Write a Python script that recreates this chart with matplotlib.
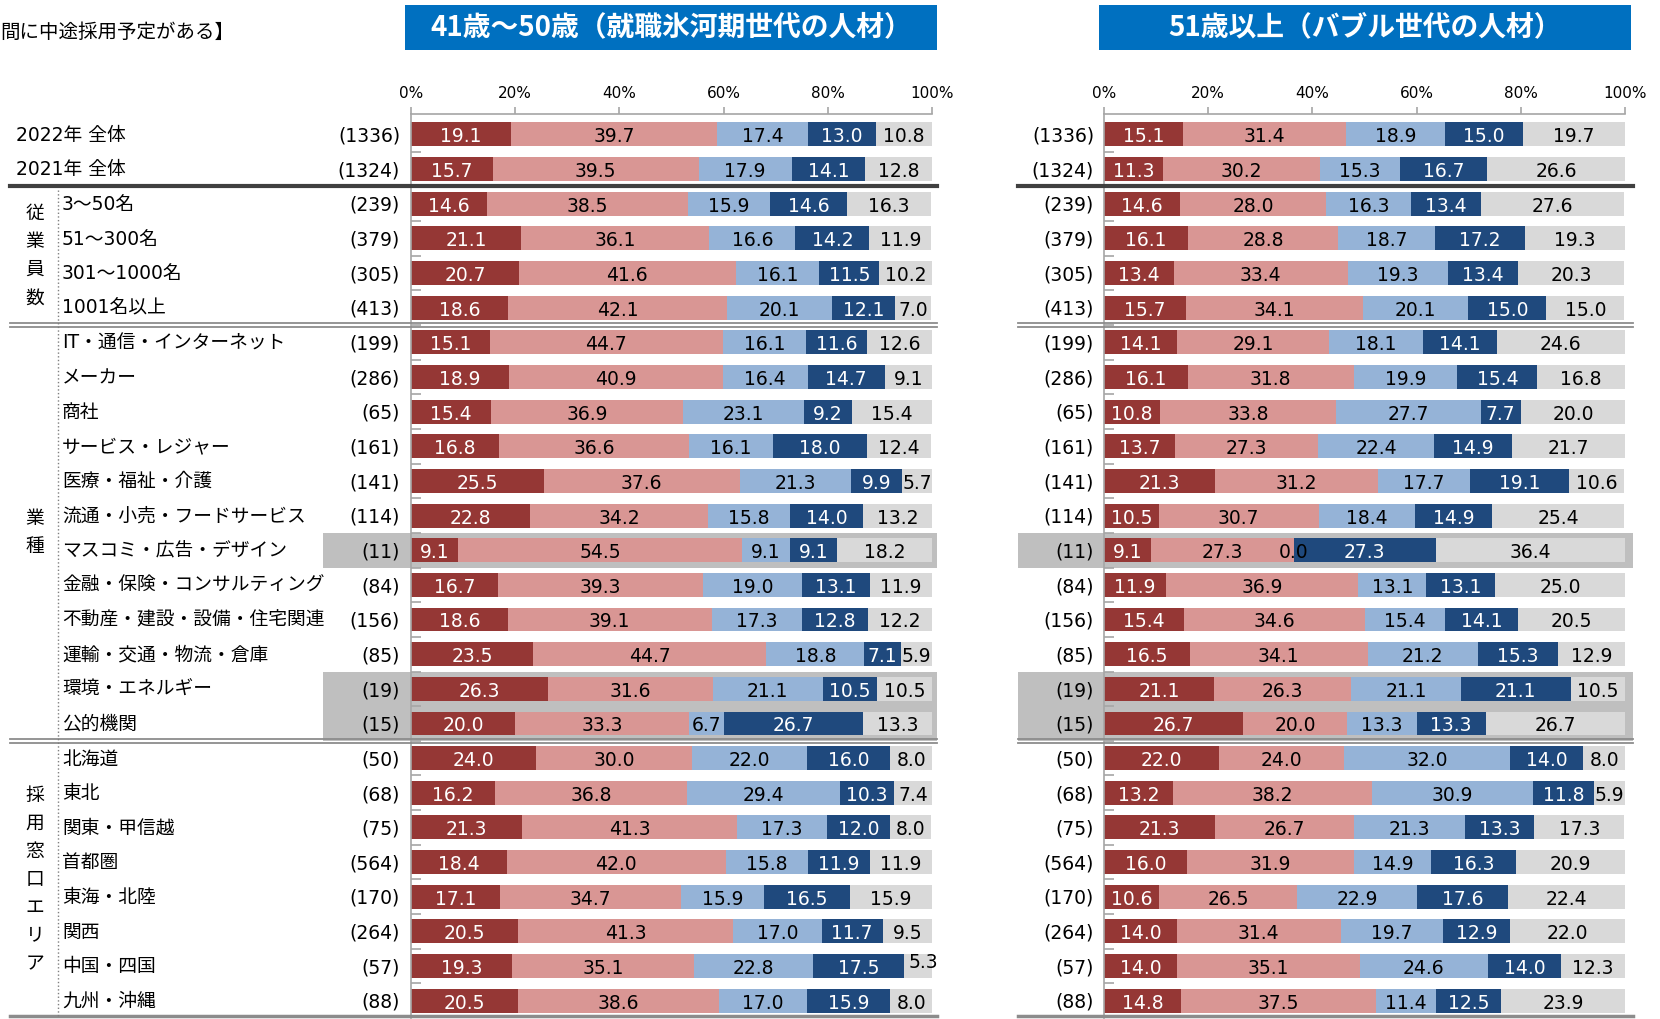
import numpy as np
import matplotlib.pyplot as plt
import matplotlib.transforms as mtransforms
from matplotlib.patches import Rectangle
from matplotlib.lines import Line2D

plt.rcParams["font.family"] = ["DejaVu Sans", "Noto Sans CJK JP"]

# 行ラベルと回答数
labels = [
    "2022年 全体", "2021年 全体",
    "3～50名", "51～300名", "301～1000名", "1001名以上",
    "IT・通信・インターネット", "メーカー", "商社", "サービス・レジャー",
    "医療・福祉・介護", "流通・小売・フードサービス", "マスコミ・広告・デザイン",
    "金融・保険・コンサルティング", "不動産・建設・設備・住宅関連",
    "運輸・交通・物流・倉庫", "環境・エネルギー", "公的機関",
    "北海道", "東北", "関東・甲信越", "首都圏", "東海・北陸", "関西",
    "中国・四国", "九州・沖縄",
]
counts = [1336, 1324, 239, 379, 305, 413, 199, 286, 65, 161, 141, 114, 11,
          84, 156, 85, 19, 15, 50, 68, 75, 564, 170, 264, 57, 88]

# グループ(見出し, 先頭行, 最終行)
groups = [("従業員数", 2, 5), ("業種", 6, 17), ("採用窓口エリア", 18, 25)]
# 回答数が少ない行(グレー網掛け)
small_rows = [(12, 12), (16, 17)]

# 41歳～50歳
a41_1 = [19.1, 15.7, 14.6, 21.1, 20.7, 18.6, 15.1, 18.9, 15.4, 16.8, 25.5, 22.8, 9.1,
         16.7, 18.6, 23.5, 26.3, 20.0, 24.0, 16.2, 21.3, 18.4, 17.1, 20.5, 19.3, 20.5]
a41_2 = [39.7, 39.5, 38.5, 36.1, 41.6, 42.1, 44.7, 40.9, 36.9, 36.6, 37.6, 34.2, 54.5,
         39.3, 39.1, 44.7, 31.6, 33.3, 30.0, 36.8, 41.3, 42.0, 34.7, 41.3, 35.1, 38.6]
a41_3 = [17.4, 17.9, 15.9, 16.6, 16.1, 20.1, 16.1, 16.4, 23.1, 16.1, 21.3, 15.8, 9.1,
         19.0, 17.3, 18.8, 21.1, 6.7, 22.0, 29.4, 17.3, 15.8, 15.9, 17.0, 22.8, 17.0]
a41_4 = [13.0, 14.1, 14.6, 14.2, 11.5, 12.1, 11.6, 14.7, 9.2, 18.0, 9.9, 14.0, 9.1,
         13.1, 12.8, 7.1, 10.5, 26.7, 16.0, 10.3, 12.0, 11.9, 16.5, 11.7, 17.5, 15.9]
a41_5 = [10.8, 12.8, 16.3, 11.9, 10.2, 7.0, 12.6, 9.1, 15.4, 12.4, 5.7, 13.2, 18.2,
         11.9, 12.2, 5.9, 10.5, 13.3, 8.0, 7.4, 8.0, 11.9, 15.9, 9.5, 5.3, 8.0]

# 51歳以上
a51_1 = [15.1, 11.3, 14.6, 16.1, 13.4, 15.7, 14.1, 16.1, 10.8, 13.7, 21.3, 10.5, 9.1,
         11.9, 15.4, 16.5, 21.1, 26.7, 22.0, 13.2, 21.3, 16.0, 10.6, 14.0, 14.0, 14.8]
a51_2 = [31.4, 30.2, 28.0, 28.8, 33.4, 34.1, 29.1, 31.8, 33.8, 27.3, 31.2, 30.7, 27.3,
         36.9, 34.6, 34.1, 26.3, 20.0, 24.0, 38.2, 26.7, 31.9, 26.5, 31.4, 35.1, 37.5]
a51_3 = [18.9, 15.3, 16.3, 18.7, 19.3, 20.1, 18.1, 19.9, 27.7, 22.4, 17.7, 18.4, 0.0,
         13.1, 15.4, 21.2, 21.1, 13.3, 32.0, 30.9, 21.3, 14.9, 22.9, 19.7, 24.6, 11.4]
a51_4 = [15.0, 16.7, 13.4, 17.2, 13.4, 15.0, 14.1, 15.4, 7.7, 14.9, 19.1, 14.9, 27.3,
         13.1, 14.1, 15.3, 21.1, 13.3, 14.0, 11.8, 13.3, 16.3, 17.6, 12.9, 14.0, 12.5]
a51_5 = [19.7, 26.6, 27.6, 19.3, 20.3, 15.0, 24.6, 16.8, 20.0, 21.7, 10.6, 25.4, 36.4,
         25.0, 20.5, 12.9, 10.5, 26.7, 8.0, 5.9, 17.3, 20.9, 22.4, 22.0, 12.3, 23.9]

titles = ["41歳～50歳（就職氷河期世代の人材）", "51歳以上（バブル世代の人材）"]
panels = [[a41_1, a41_2, a41_3, a41_4, a41_5], [a51_1, a51_2, a51_3, a51_4, a51_5]]

colors = ["#953735", "#D99694", "#95B3D7", "#1F497D", "#D9D9D9"]
text_colors = ["white", "black", "black", "white", "black"]

W, H = 1660, 1019
fig = plt.figure(figsize=(W / 100, H / 100), dpi=100)

# ピクセル座標(左上原点)
px = mtransforms.Affine2D().scale(1 / W, -1 / H).translate(0, 1) + fig.transFigure

rows = np.arange(len(labels))
FS = 13.5
GRID = "#A6A6A6"

# パネルごとの配置: 軸の左端, 回答数の右端, 網掛けの左右端, タイトル枠
layout = [
    dict(ax_left=411, n_right=400, band_left=323, band_right=937, title=(405, 937)),
    dict(ax_left=1104, n_right=1094, band_left=1018, band_right=1633, title=(1099, 1631)),
]

axes = []
for p, (series, lay) in enumerate(zip(panels, layout)):
    ax = fig.add_axes([lay["ax_left"] / W, 1 / H, 521 / W, 904 / H])
    ax.patch.set_alpha(0)
    axes.append(ax)

    data = np.array(series)
    starts = np.vstack([np.zeros(len(rows)), np.cumsum(data, axis=0)[:-1]])
    for k in range(5):
        ax.barh(rows, data[k], left=starts[k], height=0.69, color=colors[k], zorder=2)
        for r in rows:
            dx, dy = (4, 4) if (p == 0 and r == 24 and k == 4) else (0, 0)
            ax.annotate(f"{data[k][r]:.1f}", (starts[k][r] + data[k][r] / 2, r + 0.07),
                        xytext=(dx, dy), textcoords="offset points",
                        ha="center", va="center", fontsize=FS,
                        color=text_colors[k], zorder=3)

    ax.set_xlim(0, 100)
    ax.set_ylim(25.5, -0.59)
    ax.xaxis.tick_top()
    ax.set_xticks(range(0, 101, 20))
    ax.set_xticklabels([f"{v}%" for v in range(0, 101, 20)])
    ax.tick_params(axis="x", direction="out", length=5, width=1.2, color=GRID,
                   labelsize=11, pad=4)
    ax.set_yticks([])
    ax.set_yticks(np.arange(0.5, 25, 1), minor=True)
    ax.tick_params(axis="y", which="minor", direction="in", length=7, width=1.2, color=GRID)
    for side in ["right", "bottom"]:
        ax.spines[side].set_visible(False)
    for side in ["top", "left"]:
        ax.spines[side].set_color(GRID)
        ax.spines[side].set_linewidth(1.2)

    rowtf = mtransforms.blended_transform_factory(px, ax.transData)

    # 回答数
    for r in rows:
        fig.text(lay["n_right"], r + 0.05, f"({counts[r]})", transform=rowtf,
                 ha="right", va="center", fontsize=FS)

    # 回答数の少ない行の網掛け
    for r0, r1 in small_rows:
        fig.add_artist(Rectangle((lay["band_left"], r0 - 0.5), lay["band_right"] - lay["band_left"],
                                 r1 - r0 + 1, transform=rowtf, facecolor="#BFBFBF",
                                 edgecolor="none", zorder=-1))

    # 区切り線
    x0 = 10 if p == 0 else lay["band_left"]
    x1 = lay["band_right"]
    fig.add_artist(Line2D([x0, x1], [1.5, 1.5], transform=rowtf, color="#404040", lw=3))
    for yb in [5.5, 17.5]:
        for off in (-0.065, 0.065):
            fig.add_artist(Line2D([x0, x1], [yb + off, yb + off], transform=rowtf,
                                  color="#8C8C8C", lw=1.3))
    fig.add_artist(Line2D([x0, x1], [25.45, 25.45], transform=rowtf, color="#8C8C8C", lw=2.5))

    # タイトル
    tx0, tx1 = lay["title"]
    fig.add_artist(Rectangle((tx0, 50), tx1 - tx0, -45, transform=px,
                             facecolor="#0070C0", edgecolor="none"))
    fig.text((tx0 + tx1) / 2, 27.5, titles[p], transform=px, ha="center", va="center",
             fontsize=20, fontweight="bold", color="white", family=["Noto Sans CJK JP"])

rowtf = mtransforms.blended_transform_factory(px, axes[0].transData)

# 行ラベル
for r in rows:
    x = 16 if r < 2 else 62
    fig.text(x, r + 0.02, labels[r], transform=rowtf, ha="left", va="center", fontsize=FS)

# グループ見出し(縦書き)
for name, r0, r1 in groups:
    mid = (r0 + r1) / 2
    n = len(name)
    for i, ch in enumerate(name):
        fig.text(35, mid + (i - (n - 1) / 2) * 0.81, ch, transform=rowtf,
                 ha="center", va="center", fontsize=FS)

# 見出しと行ラベルの間の点線
fig.add_artist(Line2D([58, 58], [1.6, 25.45], transform=rowtf, color="#7F7F7F",
                      lw=1, linestyle=":"))

fig.text(0, 32, "間に中途採用予定がある】", transform=px, ha="left", va="center", fontsize=14)

fig.savefig("out.png", dpi=100)
